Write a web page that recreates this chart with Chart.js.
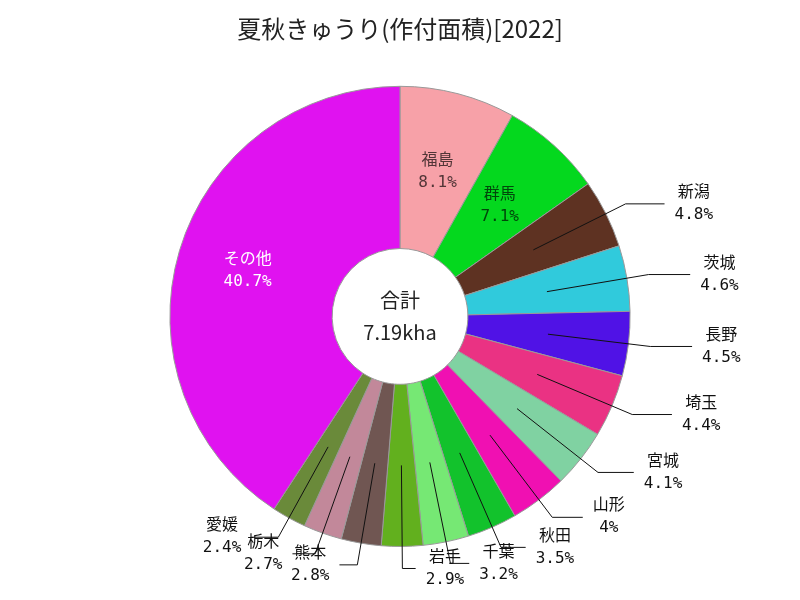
<!DOCTYPE html>
<html lang="ja">
<head>
  <meta charset="UTF-8">
  <title>夏秋きゅうり(作付面積)[2022]</title>
  <script src="https://cdn.jsdelivr.net/npm/chart.js"></script>
  <style>
    body {
      margin: 0;
      background-color: #ffffff;
    }
  </style>
</head>
<body>
  <canvas id="pieChart" width="800" height="600"></canvas>

  <script>
    const titleText = '夏秋きゅうり(作付面積)[2022]';
    const prefectures = ['福島', '群馬', '新潟', '茨城', '長野', '埼玉', '宮城', '山形', '秋田', '千葉', '岩手', '熊本', '栃木', '愛媛', 'その他'];
    const shares = [8.1, 7.1, 4.8, 4.6, 4.5, 4.4, 4.1, 4, 3.5, 3.2, 2.9, 2.8, 2.7, 2.4, 40.7];
    const totalKha = 7.19;

    const sliceColors = [
      '#f7a1a8', '#04d81e', '#5e3222', '#30cadc', '#5012e6',
      '#ea3283', '#80d2a2', '#f010b2', '#12c22c', '#76e874',
      '#62b01e', '#705652', '#c2889a', '#6a8a3a', '#e012f0'
    ];

    const labelFont = '16px "DejaVu Sans Mono", "Noto Sans CJK JP"';
    const centerFont = '20px "Noto Sans CJK JP"';

    function fmtShare(v) {
      return (Number.isInteger(v) ? v : v.toFixed(1)) + '%';
    }

    // dark text on light slices, white on dark ones
    function innerTextColor(hex) {
      const r = parseInt(hex.slice(1, 3), 16);
      const g = parseInt(hex.slice(3, 5), 16);
      const b = parseInt(hex.slice(5, 7), 16);
      const lum = 0.3 * r + 0.59 * g + 0.11 * b;
      if (lum < 120) return '#ffffff';
      const k = 0.33;
      return `rgb(${Math.round(r * k)}, ${Math.round(g * k)}, ${Math.round(b * k)})`;
    }

    const pieLabels = {
      id: 'pieLabels',
      afterDatasetsDraw(chart) {
        const ctx = chart.ctx;
        const meta = chart.getDatasetMeta(0);
        let cx = 0, cy = 0;

        ctx.save();
        ctx.font = labelFont;
        ctx.textBaseline = 'middle';
        ctx.textAlign = 'center';
        ctx.lineWidth = 1;

        meta.data.forEach((arc, i) => {
          const p = arc.getProps(['x', 'y', 'startAngle', 'endAngle', 'innerRadius', 'outerRadius'], true);
          cx = p.x;
          cy = p.y;
          const mid = (p.startAngle + p.endAngle) / 2;
          const cos = Math.cos(mid);
          const sin = Math.sin(mid);
          const midR = (p.innerRadius + p.outerRadius) / 2;
          const name = prefectures[i];
          const pct = fmtShare(shares[i]);

          if (shares[i] >= 5) {
            // big slices get their label a bit further out
            const r = shares[i] > 20 ? midR + 10 : midR;
            const lx = p.x + cos * r;
            const ly = p.y + sin * r;
            ctx.fillStyle = innerTextColor(sliceColors[i]);
            ctx.fillText(name, lx, ly - 11);
            ctx.fillText(pct, lx, ly + 11);
            return;
          }

          const sx = p.x + cos * midR;
          const sy = p.y + sin * midR;
          const ex = p.x + cos * (p.outerRadius + 22);
          const ey = p.y + sin * (p.outerRadius + 22);
          const dir = cos >= 0 ? 1 : -1;
          const hx = ex + dir * (13 + 29 * Math.abs(cos));

          ctx.strokeStyle = '#111111';
          ctx.beginPath();
          ctx.moveTo(sx, sy);
          ctx.lineTo(ex, ey);
          ctx.lineTo(hx, ey);
          ctx.stroke();

          const w = Math.max(ctx.measureText(name).width, ctx.measureText(pct).width);
          const tx = dir > 0 ? hx + 10 + w / 2 : hx - 10 - w / 2;
          ctx.fillStyle = '#111111';
          ctx.fillText(name, tx, ey - 11);
          ctx.fillText(pct, tx, ey + 11);
        });

        // total in the hole
        ctx.font = centerFont;
        ctx.fillStyle = '#222222';
        ctx.fillText('合計', cx, cy - 16);
        ctx.fillText(totalKha + 'kha', cx, cy + 16);
        ctx.restore();
      }
    };

    new Chart(document.getElementById('pieChart').getContext('2d'), {
      type: 'doughnut',
      data: {
        labels: prefectures,
        datasets: [{
          data: shares,
          backgroundColor: sliceColors,
          borderColor: '#999999',
          borderWidth: 1,
        }],
      },
      options: {
        responsive: false,
        animation: false,
        cutout: '29.5%',
        layout: {
          padding: { top: 0, bottom: 53, left: 0, right: 0 },
        },
        plugins: {
          legend: { display: false },
          tooltip: { enabled: false },
          title: {
            display: true,
            text: titleText,
            color: '#222222',
            font: { family: '"Noto Sans CJK JP"', size: 24, weight: 'normal' },
            padding: { top: 14, bottom: 43 },
          },
        },
      },
      plugins: [pieLabels],
    });
  </script>
</body>
</html>
